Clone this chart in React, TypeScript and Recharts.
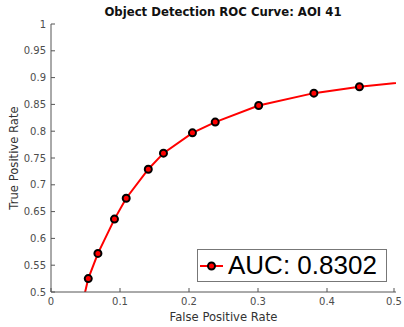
import { LineChart, Line, XAxis, YAxis, Legend } from "recharts";

document.body.style.margin = "0";

// ROC operating points; first and last fall outside the view
const fpr = [0.044, 0.054, 0.068, 0.092, 0.109, 0.141, 0.163, 0.205, 0.238, 0.301, 0.381, 0.447, 0.53];
const tpr = [0.47, 0.525, 0.572, 0.636, 0.675, 0.729, 0.759, 0.797, 0.817, 0.848, 0.871, 0.883, 0.894];
const xTicks = [0, 0.1, 0.2, 0.3, 0.4, 0.5];
const yTicks = [0.5, 0.55, 0.6, 0.65, 0.7, 0.75, 0.8, 0.85, 0.9, 0.95, 1];
const aucLabel = "AUC: 0.8302";

const data = fpr.map((x, i) => ({ x, y: tpr[i] }));

const FONT = "'DejaVu Sans', sans-serif";
const FRAME = "#555555";
const TICK_LEN = 4;

const fmt = (v: number) => String(v);

const BottomTick = (props: any) => {
  const { x, y, payload } = props;
  return (
    <g>
      <line x1={x} x2={x} y1={y} y2={y - TICK_LEN} stroke={FRAME} />
      <text x={x} y={y + 13} textAnchor="middle" fontSize={10} fill="#4d4d4d" fontFamily={FONT}>
        {fmt(payload.value)}
      </text>
    </g>
  );
};

const TopTick = (props: any) => {
  const { x, y } = props;
  return <line x1={x} x2={x} y1={y} y2={y + TICK_LEN} stroke={FRAME} />;
};

const LeftTick = (props: any) => {
  const { x, y, payload } = props;
  return (
    <g>
      <line x1={x} x2={x + TICK_LEN} y1={y} y2={y} stroke={FRAME} />
      <text x={x - 5} y={y + 3.5} textAnchor="end" fontSize={10} fill="#4d4d4d" fontFamily={FONT}>
        {fmt(payload.value)}
      </text>
    </g>
  );
};

const RightTick = (props: any) => {
  const { x, y } = props;
  return <line x1={x} x2={x - TICK_LEN} y1={y} y2={y} stroke={FRAME} />;
};

const LegendBox = () => (
  <div
    style={{
      boxSizing: "border-box",
      width: 190,
      height: 33,
      border: "1px solid #777",
      background: "#fff",
      display: "flex",
      alignItems: "center",
      whiteSpace: "nowrap",
    }}
  >
    <svg width={28} height={31} style={{ flex: "none" }}>
      <line x1={2} x2={25} y1={16} y2={16} stroke="#ff0000" strokeWidth={2} />
      <circle cx={13.5} cy={16} r={3.5} fill="#ff0000" stroke="#000" strokeWidth={2} />
    </svg>
    <span
      style={{
        fontFamily: "'Liberation Sans', Arial, sans-serif",
        fontSize: 26,
        color: "#000",
        lineHeight: "31px",
        marginLeft: 2,
      }}
    >
      {aucLabel}
    </span>
  </div>
);

export default function App() {
  return (
    <div style={{ position: "relative", width: 404, height: 327, background: "#fff" }}>
      <LineChart width={404} height={327} data={data} margin={{ top: 24, right: 8, bottom: 0, left: 0 }}>
        <XAxis
          xAxisId="b"
          dataKey="x"
          type="number"
          domain={[0, 0.5]}
          ticks={xTicks}
          allowDataOverflow
          height={35}
          tickSize={0}
          tickMargin={0}
          stroke={FRAME}
          tick={<BottomTick />}
          label={{ value: "False Positive Rate", position: "insideBottom", offset: 6, fontSize: 11.6, fill: "#333", fontFamily: FONT }}
        />
        <XAxis
          xAxisId="t"
          orientation="top"
          dataKey="x"
          type="number"
          domain={[0, 0.5]}
          ticks={xTicks}
          allowDataOverflow
          height={0}
          tickSize={0}
          stroke={FRAME}
          tick={<TopTick />}
        />
        <YAxis
          yAxisId="l"
          type="number"
          domain={[0.5, 1]}
          ticks={yTicks}
          allowDataOverflow
          width={51}
          tickSize={0}
          tickMargin={0}
          stroke={FRAME}
          tick={<LeftTick />}
          label={{ value: "True Positive Rate", angle: -90, position: "insideLeft", offset: 14, fontSize: 11.6, fill: "#333", fontFamily: FONT, style: { textAnchor: "middle" } }}
        />
        <YAxis
          yAxisId="r"
          orientation="right"
          type="number"
          domain={[0.5, 1]}
          ticks={yTicks}
          allowDataOverflow
          width={0}
          tickSize={0}
          stroke={FRAME}
          tick={<RightTick />}
        />
        <Line
          xAxisId="b"
          yAxisId="l"
          dataKey="y"
          stroke="#ff0000"
          strokeWidth={2}
          dot={{ r: 3.5, fill: "#ff0000", stroke: "#000", strokeWidth: 2 }}
          activeDot={false}
          isAnimationActive={false}
        />
        <Legend
          layout="vertical"
          align="center"
          verticalAlign="middle"
          content={<LegendBox />}
          wrapperStyle={{ position: "absolute", left: 197, top: 249, width: 190, height: 33 }}
        />
      </LineChart>
      <div
        style={{
          position: "absolute",
          top: 5,
          left: 0,
          width: 446,
          textAlign: "center",
          fontFamily: FONT,
          fontWeight: "bold",
          fontSize: 11.7,
          lineHeight: "14px",
          color: "#111",
        }}
      >
        Object Detection ROC Curve: AOI 41
      </div>
    </div>
  );
}
